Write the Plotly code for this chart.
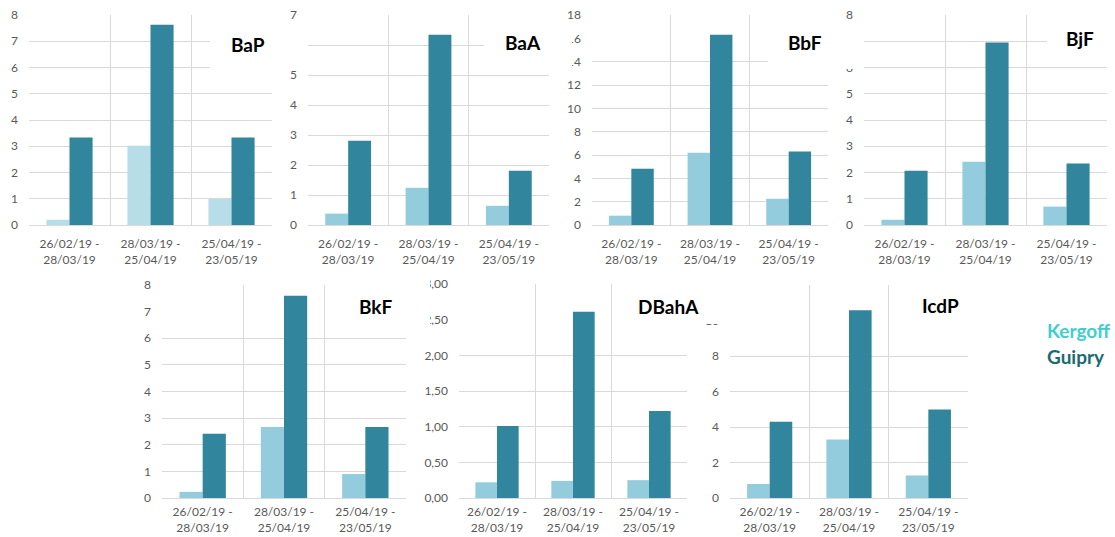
import plotly.graph_objects as go

# sampling periods (x categories)
periods = ["26/02/19 -<br>28/03/19", "28/03/19 -<br>25/04/19", "25/04/19 -<br>23/05/19"]
compounds = ["BaP", "BaA", "BbF", "BjF", "BkF", "DBahA", "IcdP"]
sites = ["Kergoff", "Guipry"]

# values
bap_kergoff = [0.2, 3.02, 0.99]
bap_guipry = [3.33, 7.63, 3.33]
baa_kergoff = [0.38, 1.24, 0.64]
baa_guipry = [2.81, 6.34, 1.81]
bbf_kergoff = [0.8, 6.2, 2.25]
bbf_guipry = [4.83, 16.3, 6.29]
bjf_kergoff = [0.2, 2.41, 0.7]
bjf_guipry = [2.07, 6.95, 2.34]
bkf_kergoff = [0.23, 2.67, 0.9]
bkf_guipry = [2.41, 7.6, 2.67]
dbaha_kergoff = [0.22, 0.24, 0.25]
dbaha_guipry = [1.01, 2.61, 1.22]
icdp_kergoff = [0.79, 3.29, 1.27]
icdp_guipry = [4.3, 10.58, 4.99]

kergoff_values = [bap_kergoff, baa_kergoff, bbf_kergoff, bjf_kergoff, bkf_kergoff, dbaha_kergoff, icdp_kergoff]
guipry_values = [bap_guipry, baa_guipry, bbf_guipry, bjf_guipry, bkf_guipry, dbaha_guipry, icdp_guipry]

# y axis max / step per panel
y_max = [8, 7, 18, 8, 8, 3, 12]
y_step = [1, 1, 2, 1, 1, 0.5, 2]
# gridlines that are visible in the picture
grid_vals = [
    [1, 2, 3, 4, 5, 6, 7],
    [1, 2, 3, 4, 5, 6],
    [2, 4, 6, 8, 10, 12, 14],
    [1, 2, 3, 4, 5, 6, 7],
    [1, 2, 3, 4, 5, 6],
    [0.5, 1.0, 1.5, 2.0],
    [2, 4, 6, 8],
]

W, H = 1115, 537
# plot areas in pixels: x0, x1, ytop, ybottom
boxes = [
    (29, 272, 15, 225),
    (308, 549, 15, 225),
    (592, 828, 15, 225),
    (864, 1107, 15, 225),
    (162, 406, 285, 498),
    (459, 687, 284, 498),
    (730, 968, 285, 498),
]
title_pos = [(248, 45), (523, 43), (805, 42), (1080, 38), (376, 306), (668, 306), (940, 305)]

KERGOFF = "#93cddd"
KERGOFF_LIGHT = "#b7dee8"
GUIPRY = "#31859c"
GRID = "#d9d9d9"
TICK = "#595959"
FONT = "Lato, 'Open Sans', sans-serif"

fig = go.Figure()
x_pos = list(range(len(periods)))

for i, name in enumerate(compounds):
    sfx = "" if i == 0 else str(i + 1)
    fig.add_trace(go.Bar(x=x_pos, y=kergoff_values[i], name=sites[0],
                         marker=dict(color=KERGOFF_LIGHT if i == 0 else KERGOFF, line_width=0),
                         xaxis="x" + sfx, yaxis="y" + sfx, showlegend=False))
    fig.add_trace(go.Bar(x=x_pos, y=guipry_values[i], name=sites[1],
                         marker=dict(color=GUIPRY, line_width=0),
                         xaxis="x" + sfx, yaxis="y" + sfx, showlegend=False))

    x0, x1, yt, yb = boxes[i]
    n_ticks = int(round(y_max[i] / y_step[i])) + 1
    tvals = [k * y_step[i] for k in range(n_ticks)]
    if name == "DBahA":
        ttext = [f"{v:.2f}".replace(".", ",") for v in tvals]
    else:
        ttext = [f"{v:g}" for v in tvals]

    # bottom row has less room under the axis
    standoff = 8 if i < 4 else 3

    fig.layout["xaxis" + sfx] = dict(
        domain=[x0 / W, x1 / W], anchor="y" + sfx, range=[-0.5, 2.5],
        tickvals=x_pos, ticktext=periods, showgrid=False, zeroline=False,
        showline=True, linecolor=GRID, linewidth=1, ticks="",
        ticklabelstandoff=standoff, tickfont=dict(family=FONT, size=12, color=TICK),
        minor=dict(tickvals=[-0.5, 0.5, 1.5, 2.5], showgrid=True, gridcolor=GRID,
                   gridwidth=1, ticks=""),
        fixedrange=True, automargin=False,
    )
    fig.layout["yaxis" + sfx] = dict(
        domain=[1 - yb / H, 1 - yt / H], anchor="x" + sfx, range=[0, y_max[i]],
        tickvals=tvals, ticktext=ttext, showgrid=False, zeroline=False,
        ticks="", ticklabelstandoff=10, tickfont=dict(family=FONT, size=12, color=TICK),
        minor=dict(tickvals=grid_vals[i], showgrid=True, gridcolor=GRID, gridwidth=1, ticks=""),
        fixedrange=True, automargin=False,
    )
    tx, ty = title_pos[i]
    fig.add_annotation(text="<b>%s</b>" % name, x=tx / W, y=1 - ty / H, xref="paper", yref="paper",
                       showarrow=False, xanchor="center", yanchor="middle",
                       font=dict(family=FONT, size=19, color="#000000"))

# white patches left over from pasting the charts together
patches = [
    (210, 302, 20, 71),
    (484, 572, 20, 71),
    (768, 858, 20, 69),
    (1047, 1115, 20, 64),
    (362, 430, 280, 332),
    (650, 727, 278, 324),
    (930, 990, 280, 332),
]
for px0, px1, py0, py1 in patches:
    fig.add_shape(type="rect", xref="paper", yref="paper", x0=px0 / W, x1=px1 / W,
                  y0=1 - py1 / H, y1=1 - py0 / H, fillcolor="white", line_width=0, layer="above")

# legend drawn as coloured text
fig.add_annotation(text="<b>Kergoff</b>", x=1078 / W, y=1 - 330 / H, xref="paper", yref="paper",
                   showarrow=False, xanchor="center", yanchor="middle",
                   font=dict(family=FONT, size=19, color="#3dcfd0"))
fig.add_annotation(text="<b>Guipry</b>", x=1076 / W, y=1 - 356 / H, xref="paper", yref="paper",
                   showarrow=False, xanchor="center", yanchor="middle",
                   font=dict(family=FONT, size=19, color="#1a6b6e"))

fig.update_layout(
    width=W, height=H, margin=dict(l=0, r=0, t=0, b=0),
    barmode="group", bargap=0.43, bargroupgap=0,
    paper_bgcolor="white", plot_bgcolor="white",
    font=dict(family=FONT),
)

fig.write_html("out.html", config={"displayModeBar": False},
               post_script="document.body.style.margin='0px';")
